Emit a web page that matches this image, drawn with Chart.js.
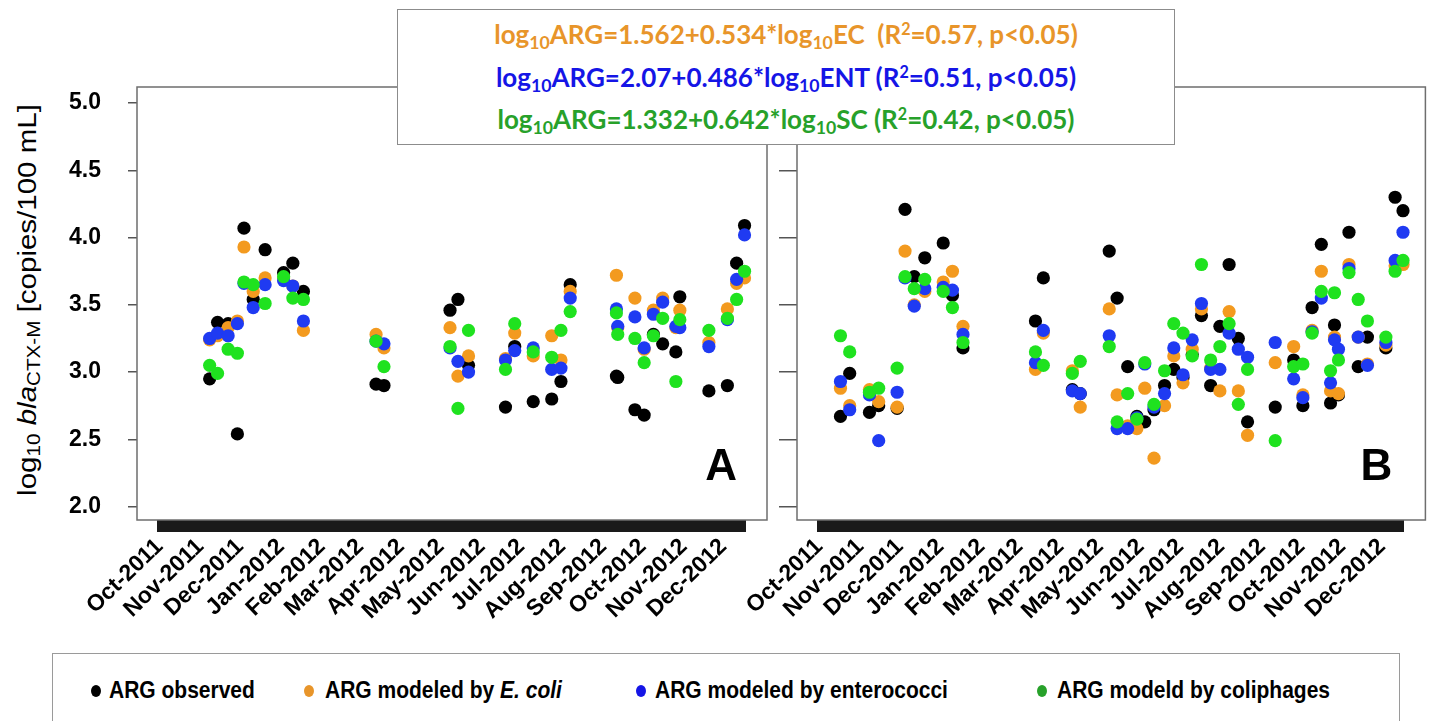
<!DOCTYPE html>
<html>
<head>
<meta charset="utf-8">
<script src="https://cdn.jsdelivr.net/npm/chart.js@4.4.1/dist/chart.umd.min.js"></script>
<style>
  body { margin: 0; width: 1432px; height: 721px; background: #fff; position: relative; overflow: hidden; }
  canvas { position: absolute; top: 0; }
  #chartA { left: 0; }
  #chartB { left: 660px; }
  #ytitle {
    position: absolute; left: 27px; top: 300px; white-space: nowrap;
    font: 25px "Liberation Sans", Arial, sans-serif; color: #000;
    transform: translate(-50%, -50%) rotate(-90deg) scaleX(1.18);
  }
  #ytitle sub { font-size: 70%; vertical-align: -0.25em; line-height: 0; }
  #eqbox {
    position: absolute; left: 397px; top: 9px; width: 776px; height: 134px;
    border: 1.5px solid #8c8c8c; background: #fff; z-index: 5;
    font: bold 26px Lato, "Open Sans", sans-serif; text-align: center;
  }
  #eqbox .ln { position: absolute; left: 0; right: 0; white-space: nowrap; }
  #eqbox sub { font-size: 68%; vertical-align: -0.3em; line-height: 0; }
  #eqbox sup { font-size: 62%; vertical-align: 0.55em; line-height: 0; }
  #legend {
    position: absolute; left: 52px; top: 653px; width: 1346px; height: 120px;
    border: 1.5px solid #9a9a9a; background: #fff;
    font: bold 21px "Liberation Sans", Arial, sans-serif;
  }
  #legend .dot { position: absolute; top: 31px; width: 10px; height: 12px; border-radius: 50%; }
  #legend .txt { position: absolute; top: 24px; white-space: nowrap; transform: scaleY(1.15); transform-origin: 0 50%; }
</style>
</head>
<body>
<div id="ytitle">log<sub>10</sub> <i>bla</i><sub>CTX-M</sub> [copies/100 mL]</div>
<canvas id="chartA" width="780" height="640"></canvas>
<canvas id="chartB" width="772" height="640"></canvas>
<div id="eqbox">
  <div class="ln" style="top:8px;color:#E8952A">log<sub>10</sub>ARG=1.562+0.534*log<sub>10</sub>EC&nbsp; (R<sup>2</sup>=0.57, p&lt;0.05)</div>
  <div class="ln" style="top:51px;color:#1515E6">log<sub>10</sub>ARG=2.07+0.486*log<sub>10</sub>ENT (R<sup>2</sup>=0.51, p&lt;0.05)</div>
  <div class="ln" style="top:93px;color:#27A12A">log<sub>10</sub>ARG=1.332+0.642*log<sub>10</sub>SC (R<sup>2</sup>=0.42, p&lt;0.05)</div>
</div>
<div id="legend">
  <span class="dot" style="left:38px;background:#000"></span><span class="txt" style="left:56px">ARG observed</span>
  <span class="dot" style="left:251px;background:#E8952A"></span><span class="txt" style="left:272px">ARG modeled by <i>E. coli</i></span>
  <span class="dot" style="left:583px;background:#1515E6"></span><span class="txt" style="left:602px">ARG modeled by enterococci</span>
  <span class="dot" style="left:984px;background:#27A12A"></span><span class="txt" style="left:1004px">ARG modeld by coliphages</span>
</div>
<script>
// month axis labels
const monthLabels = ['Oct-2011', 'Nov-2011', 'Dec-2011', 'Jan-2012', 'Feb-2012', 'Mar-2012', 'Apr-2012',
  'May-2012', 'Jun-2012', 'Jul-2012', 'Aug-2012', 'Sep-2012', 'Oct-2012', 'Nov-2012', 'Dec-2012'];
const monthStarts = ['2011-10-01', '2011-11-01', '2011-12-01', '2012-01-01', '2012-02-01', '2012-03-01', '2012-04-01',
  '2012-05-01', '2012-06-01', '2012-07-01', '2012-08-01', '2012-09-01', '2012-10-01', '2012-11-01', '2012-12-01'];
const yTicks = [2.0, 2.5, 3.0, 3.5, 4.0, 4.5, 5.0];

// panel A (log10 copies/100 mL)
const datesA = ['2011-11-08', '2011-11-14', '2011-11-22', '2011-11-29', '2011-12-04', '2011-12-11', '2011-12-20',
  '2012-01-03', '2012-01-10', '2012-01-18', '2012-03-13', '2012-03-19', '2012-05-08', '2012-05-14', '2012-05-22',
  '2012-06-19', '2012-06-26', '2012-07-10', '2012-07-24', '2012-07-31', '2012-08-07', '2012-09-11', '2012-09-12',
  '2012-09-25', '2012-10-02', '2012-10-09', '2012-10-16', '2012-10-26', '2012-10-29', '2012-11-20', '2012-12-04',
  '2012-12-11', '2012-12-17'];
const observedA = [2.95, 3.37, 3.36, 2.54, 4.07, 3.54, 3.91, 3.74, 3.81, 3.60, 2.91, 2.90, 3.46, 3.54, 3.05,
  2.74, 3.19, 2.78, 2.80, 2.93, 3.65, 2.97, 2.96, 2.72, 2.68, 3.28, 3.21, 3.15, 3.56, 2.86, 2.90, 3.81, 4.09];
const ecoliA = [3.24, 3.27, 3.33, 3.38, 3.93, 3.60, 3.70, 3.70, 3.64, 3.31, 3.28, 3.18, 3.33, 2.97, 3.12,
  3.10, 3.29, 3.12, 3.27, 3.09, 3.60, 3.72, 3.33, 3.55, 3.17, 3.46, 3.55, 3.33, 3.46, 3.22, 3.47, 3.66, 3.70];
const enteroA = [3.25, 3.29, 3.27, 3.36, 3.66, 3.48, 3.65, 3.68, 3.64, 3.38, 3.23, 3.21, 3.18, 3.08, 3.00,
  3.09, 3.16, 3.18, 3.02, 3.03, 3.55, 3.47, 3.34, 3.41, 3.18, 3.43, 3.52, 3.34, 3.33, 3.19, 3.39, 3.69, 4.02];
const coliA = [3.05, 2.99, 3.17, 3.14, 3.67, 3.65, 3.51, 3.71, 3.55, 3.54, 3.23, 3.04, 3.19, 2.73, 3.31,
  3.02, 3.36, 3.15, 3.11, 3.31, 3.45, 3.44, 3.28, 3.25, 3.07, 3.27, 3.40, 2.93, 3.39, 3.31, 3.40, 3.54, 3.75];

// panel B
const datesB = ['2011-10-17', '2011-10-24', '2011-11-08', '2011-11-15', '2011-11-29', '2011-12-05', '2011-12-12',
  '2011-12-20', '2012-01-03', '2012-01-10', '2012-01-18', '2012-03-13', '2012-03-19', '2012-04-10', '2012-04-16',
  '2012-05-08', '2012-05-14', '2012-05-22', '2012-05-29', '2012-06-04', '2012-06-11', '2012-06-19', '2012-06-26',
  '2012-07-03', '2012-07-10', '2012-07-17', '2012-07-24', '2012-07-31', '2012-08-07', '2012-08-14', '2012-08-21',
  '2012-09-11', '2012-09-25', '2012-10-02', '2012-10-09', '2012-10-16', '2012-10-23', '2012-10-26', '2012-10-29',
  '2012-11-06', '2012-11-13', '2012-11-20', '2012-12-04', '2012-12-11', '2012-12-17'];
const observedB = [2.67, 2.99, 2.70, 2.75, 2.73, 4.21, 3.71, 3.85, 3.96, 3.57, 3.18, 3.38, 3.70, 2.87, 2.84,
  3.90, 3.55, 3.04, 2.67, 2.63, 2.72, 2.90, 3.02, 2.96, 3.13, 3.42, 2.90, 3.34, 3.80, 3.25, 2.63,
  2.74, 3.09, 2.75, 3.48, 3.95, 2.77, 3.35, 2.83, 4.04, 3.04, 3.26, 3.18, 4.30, 4.20];
const ecoliB = [2.88, 2.75, 2.87, 2.78, 2.74, 3.90, 3.50, 3.60, 3.67, 3.75, 3.34, 3.02, 3.29, 3.01, 2.74,
  3.47, 2.83, 2.60, 2.58, 2.88, 2.36, 2.75, 3.12, 2.92, 3.17, 3.47, 3.03, 2.86, 3.45, 2.86, 2.53,
  3.07, 3.19, 2.83, 3.31, 3.75, 2.86, 3.26, 2.84, 3.80, 3.26, 3.06, 3.20, 3.79, 3.80];
const enteroB = [2.93, 2.72, 2.83, 2.49, 2.85, 3.70, 3.49, 3.62, 3.63, 3.61, 3.28, 3.07, 3.31, 2.86, 2.84,
  3.27, 2.58, 2.58, 2.66, 3.06, 2.74, 2.84, 3.18, 2.98, 3.24, 3.51, 3.02, 3.02, 3.29, 3.17, 3.11,
  3.22, 2.95, 2.81, 3.30, 3.55, 2.92, 3.24, 3.17, 3.77, 3.26, 3.05, 3.22, 3.83, 4.04];
const coliB = [3.27, 3.15, 2.85, 2.88, 3.03, 3.71, 3.62, 3.69, 3.60, 3.48, 3.22, 3.15, 3.05, 2.99, 3.08,
  3.19, 2.63, 2.84, 2.65, 3.07, 2.76, 3.01, 3.36, 3.29, 3.12, 3.80, 3.09, 3.19, 3.36, 2.76, 3.02,
  2.49, 3.04, 3.06, 3.29, 3.60, 3.01, 3.59, 3.09, 3.74, 3.54, 3.38, 3.26, 3.75, 3.83];

const DAY = 86400000;
const origin = Date.parse('2011-10-01');
const toDay = s => Math.round((Date.parse(s) - origin) / DAY);

// one tick per day -> the solid black band under each panel
const dayTicks = [];
for (let d = -1; d <= 443; d++) dayTicks.push(d);
const labelByDay = {};
monthStarts.forEach((s, i) => { labelByDay[toDay(s)] = monthLabels[i]; });

const points = (dates, values) => dates.map((d, i) => ({ x: toDay(d), y: values[i] }));

const framePlugin = {
  id: 'frame',
  afterDraw(chart, args, opts) {
    const { ctx, chartArea: a } = chart;
    ctx.save();
    ctx.strokeStyle = '#6e6e6e';
    ctx.lineWidth = 1.5;
    ctx.strokeRect(a.left, a.top, a.right - a.left, a.bottom - a.top);
    ctx.fillStyle = '#000';
    ctx.font = 'bold 44px "Liberation Sans", Arial, sans-serif';
    ctx.textAlign = 'right';
    ctx.textBaseline = 'alphabetic';
    ctx.fillText(opts.letter, a.right - opts.dx, a.bottom - 40);
    ctx.restore();
  }
};

function makePanel(id, dates, obs, ec, ent, sc, letter, showY) {
  const ds = (label, values, color, order) => ({
    label, data: points(dates, values), backgroundColor: color,
    borderWidth: 0, pointRadius: 6.6, order
  });
  return new Chart(document.getElementById(id), {
    type: 'scatter',
    data: {
      datasets: [
        ds('ARG observed', obs, '#000000', 4),
        ds('ARG modeled by E. coli', ec, '#F39A1F', 3),
        ds('ARG modeled by enterococci', ent, '#1F3AF2', 2),
        ds('ARG modeld by coliphages', sc, '#1FE21F', 1)
      ]
    },
    options: {
      responsive: false,
      animation: false,
      layout: { padding: { top: 87, right: showY ? 13 : 5, left: 0, bottom: 0 } },
      plugins: {
        legend: { display: false },
        tooltip: { enabled: false },
        frame: { letter, dx: showY ? 30 : 33 }
      },
      scales: {
        x: {
          type: 'linear',
          min: -17,
          max: 460,
          afterBuildTicks: s => { s.ticks = dayTicks.map(v => ({ value: v })); },
          afterFit: s => { s.height = 120; },
          grid: { drawOnChartArea: false, drawTicks: true, tickLength: 12, color: '#1a1a1a', lineWidth: 2 },
          border: { display: false },
          ticks: {
            autoSkip: false,
            minRotation: 44,
            maxRotation: 44,
            padding: 1,
            color: '#000',
            font: { family: '"Liberation Sans", Arial, sans-serif', size: 23, weight: 'bold' },
            callback: v => labelByDay[v] || ''
          }
        },
        y: {
          min: 1.9,
          max: 5.12,
          afterBuildTicks: s => { s.ticks = yTicks.map(v => ({ value: v })); },
          afterFit: s => { s.width = 137; },
          grid: { drawOnChartArea: false, drawTicks: true, tickLength: showY ? 9 : 18, color: '#555', lineWidth: 1.5 },
          border: { display: false },
          ticks: {
            display: showY,
            padding: 27,
            color: '#000',
            font: { family: '"Liberation Sans", Arial, sans-serif', size: 23, weight: 'bold' },
            callback: v => v.toFixed(1)
          }
        }
      }
    },
    plugins: [framePlugin]
  });
}

makePanel('chartA', datesA, observedA, ecoliA, enteroA, coliA, 'A', true);
makePanel('chartB', datesB, observedB, ecoliB, enteroB, coliB, 'B', false);
</script>
</body>
</html>
